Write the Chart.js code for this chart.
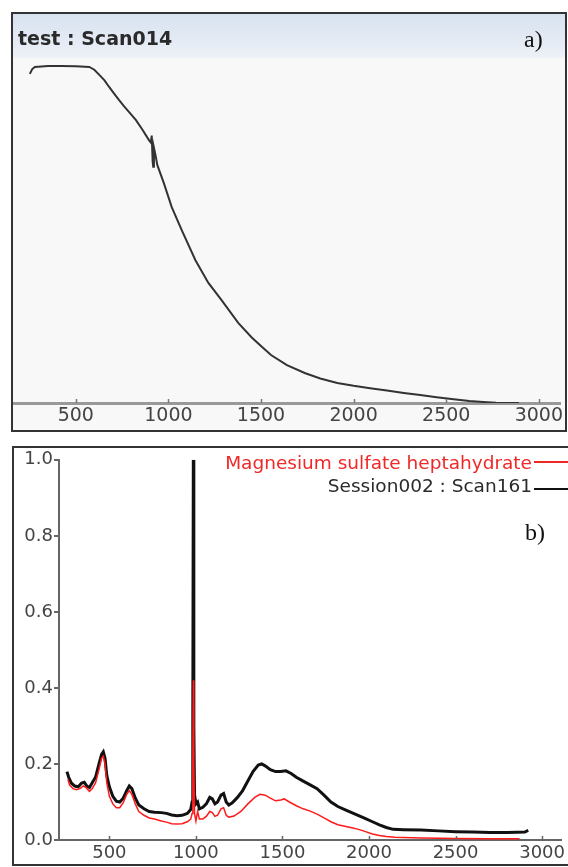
<!DOCTYPE html>
<html><head><meta charset="utf-8">
<script src="https://cdn.jsdelivr.net/npm/chart.js@4.4.0/dist/chart.umd.min.js"></script>
<style>
html,body{margin:0;padding:0;background:#fff;width:568px;height:867px;overflow:hidden;position:relative;font-family:"DejaVu Sans",sans-serif;}
#boxA{position:absolute;left:11px;top:12px;width:552px;height:416px;border:2px solid #333;background:#f8f8f8;}
#band{position:absolute;left:0;top:0;width:552px;height:44px;background:linear-gradient(#d8e2f0,#e6ecf5 70%,#eef1f6);}
#cA{position:absolute;left:0;top:0;}
#boxB{position:absolute;left:12px;top:446px;width:560px;height:416px;border:2px solid #333;background:#fff;}
#cB{position:absolute;left:0;top:0;}
.t{position:absolute;white-space:nowrap;line-height:1;}
</style></head>
<body>
<div id="boxA"><div id="band"></div><canvas id="cA" width="552" height="416"></canvas></div>
<div id="boxB"><canvas id="cB" width="554" height="416"></canvas></div>
<div class="t" style="left:18px;top:29px;font-size:19px;font-weight:bold;color:#2a2a2a;">test : Scan014</div>
<div class="t" style="left:524px;top:27px;font-size:24px;font-family:'Liberation Serif',serif;color:#111;">a)</div>
<div class="t" style="left:525px;top:520px;font-size:24px;font-family:'Liberation Serif',serif;color:#111;">b)</div>
<div class="t" style="right:36px;top:454px;font-size:18.5px;color:#f02828;">Magnesium sulfate heptahydrate</div>
<div style="position:absolute;left:534px;top:461px;width:34px;height:2px;background:#f02828;"></div>
<div class="t" style="right:36px;top:477px;font-size:18.5px;color:#2a2a2a;">Session002 : Scan161</div>
<div style="position:absolute;left:534px;top:488px;width:34px;height:2px;background:#111;"></div>
<script>
// ---- Panel a) data ----
const topX = [252,265,279,350,420,500,573,600,627,655,680,707,734,761,788,825,860,895,905,910,915,918,922,930,940,975,1018,1072,1146,1216,1286,1377,1450,1500,1554,1640,1736,1820,1912,2000,2089,2180,2271,2360,2448,2540,2625,2700,2769,2893];
const topY = [0.954,0.968,0.974,0.977,0.977,0.976,0.974,0.966,0.951,0.935,0.916,0.897,0.878,0.860,0.843,0.820,0.792,0.762,0.755,0.775,0.700,0.685,0.740,0.720,0.690,0.638,0.568,0.501,0.414,0.348,0.299,0.232,0.190,0.165,0.139,0.110,0.087,0.071,0.058,0.050,0.043,0.036,0.029,0.023,0.017,0.011,0.006,0.003,0.001,0.000];
const topTicks = [500,1000,1500,2000,2500,3000];

// ---- Panel b) data ----
const scanX = [255,265,280,300,320,340,355,370,385,400,420,440,455,465,475,485,500,520,540,560,580,600,615,630,650,670,700,730,760,800,830,860,890,920,950,970,978,982,985,988,992,1000,1010,1020,1040,1060,1080,1095,1110,1125,1145,1160,1175,1190,1210,1240,1270,1300,1330,1360,1380,1400,1430,1460,1490,1520,1550,1580,1620,1660,1700,1740,1780,1820,1860,1900,1940,1980,2020,2060,2100,2140,2200,2300,2400,2500,2600,2700,2800,2900,2920];
const scanY = [0.180,0.165,0.150,0.142,0.140,0.150,0.152,0.142,0.138,0.150,0.165,0.200,0.225,0.232,0.215,0.170,0.140,0.115,0.102,0.100,0.110,0.130,0.142,0.135,0.110,0.092,0.082,0.075,0.073,0.072,0.070,0.066,0.064,0.065,0.070,0.080,0.100,0.300,1.000,0.300,0.120,0.095,0.100,0.082,0.086,0.095,0.112,0.108,0.095,0.100,0.118,0.122,0.100,0.092,0.098,0.112,0.130,0.155,0.180,0.197,0.200,0.195,0.185,0.180,0.180,0.182,0.175,0.165,0.155,0.145,0.135,0.118,0.100,0.088,0.080,0.072,0.064,0.056,0.048,0.040,0.033,0.028,0.027,0.026,0.024,0.022,0.021,0.020,0.020,0.021,0.025];
const magX = [260,270,290,310,330,350,365,385,400,420,440,455,465,475,485,500,520,540,560,580,600,615,630,650,670,700,730,760,800,830,860,890,920,950,970,978,982,985,988,992,1000,1010,1020,1040,1060,1080,1095,1110,1125,1145,1160,1175,1190,1220,1260,1300,1340,1370,1400,1430,1460,1490,1510,1540,1580,1620,1660,1700,1740,1780,1820,1860,1900,1940,1980,2020,2060,2100,2150,2300,2500,2700,2870];
const magY = [0.160,0.145,0.135,0.132,0.135,0.142,0.138,0.128,0.135,0.150,0.185,0.215,0.220,0.200,0.150,0.115,0.095,0.085,0.085,0.098,0.120,0.130,0.120,0.095,0.075,0.065,0.058,0.055,0.050,0.047,0.043,0.042,0.043,0.048,0.055,0.070,0.200,0.420,0.200,0.070,0.050,0.075,0.055,0.055,0.062,0.075,0.072,0.062,0.065,0.082,0.085,0.065,0.060,0.063,0.075,0.095,0.112,0.120,0.118,0.110,0.103,0.105,0.108,0.100,0.090,0.082,0.076,0.068,0.058,0.048,0.040,0.036,0.032,0.028,0.022,0.016,0.012,0.009,0.007,0.005,0.004,0.003,0.003];
const bottomXTicks = [500,1000,1500,2000,2500,3000];
const bottomYTicks = [0,0.2,0.4,0.6,0.8,1.0];

const pts = (xs, ys) => xs.map((x, i) => ({x: x, y: ys[i]}));

const innerTicks = {
  id: 'innerTicks',
  afterDraw(chart, args, opts) {
    const s = chart.scales.x, ctx = chart.ctx, b = chart.chartArea.bottom;
    ctx.save();
    ctx.strokeStyle = opts.color; ctx.lineWidth = opts.width;
    s.ticks.forEach(t => {
      const px = Math.round(s.getPixelForValue(t.value)) + 0.5;
      ctx.beginPath(); ctx.moveTo(px, b - opts.len); ctx.lineTo(px, b); ctx.stroke();
    });
    ctx.restore();
  }
};

new Chart(document.getElementById('cA'), {
  type: 'line',
  data: { datasets: [{ data: pts(topX, topY), borderColor: '#333', borderWidth: 2, pointRadius: 0, tension: 0, fill: false }] },
  options: {
    responsive: false, animation: false, events: [],
    layout: { padding: { top: 44, left: 0, right: 0, bottom: 0 } },
    plugins: { legend: { display: false }, tooltip: { enabled: false }, innerTicks: { color: '#777', width: 1.5, len: 4 } },
    scales: {
      x: { type: 'linear', min: 161, max: 3118,
        afterBuildTicks: s => { s.ticks = topTicks.map(v => ({ value: v })); },
        afterFit: s => { s.height = 27; },
        border: { display: true, color: '#999', width: 3 },
        grid: { display: false, drawTicks: false },
        ticks: { color: '#444', font: { family: 'DejaVu Sans', size: 19 }, padding: 2, maxRotation: 0, autoSkip: false, callback: v => String(v) }
      },
      y: { display: false, min: 0, max: 1 }
    }
  },
  plugins: [innerTicks]
});

new Chart(document.getElementById('cB'), {
  type: 'line',
  data: { datasets: [
    { data: pts(scanX, scanY), borderColor: '#111', borderWidth: 3, pointRadius: 0, tension: 0, fill: false, order: 2 },
    { data: pts(magX, magY), borderColor: '#ff1a1a', borderWidth: 1.5, pointRadius: 0, tension: 0, fill: false, order: 1 }
  ] },
  options: {
    responsive: false, animation: false, events: [],
    layout: { padding: { top: 11, left: 0, right: 0, bottom: 0 } },
    plugins: { legend: { display: false }, tooltip: { enabled: false }, innerTicks: { color: '#666', width: 1.5, len: 4 } },
    scales: {
      x: { type: 'linear', min: 209, max: 3114,
        afterBuildTicks: s => { s.ticks = bottomXTicks.map(v => ({ value: v })); },
        afterFit: s => { s.height = 24; },
        border: { display: true, color: '#666', width: 2 },
        grid: { display: false, drawTicks: false },
        ticks: { color: '#444', font: { family: 'DejaVu Sans', size: 18 }, padding: 3, maxRotation: 0, autoSkip: false, callback: v => String(v) }
      },
      y: { min: 0, max: 1,
        afterBuildTicks: s => { s.ticks = bottomYTicks.map(v => ({ value: v })); },
        afterFit: s => { s.width = 45; },
        border: { display: true, color: '#666', width: 2 },
        grid: { display: true, drawOnChartArea: false, drawTicks: true, tickLength: 5, color: '#666', lineWidth: 2 },
        ticks: { color: '#444', font: { family: 'DejaVu Sans', size: 18 }, padding: 1, callback: v => Number(v).toFixed(1) }
      }
    }
  },
  plugins: [innerTicks]
});
</script>
</body></html>
